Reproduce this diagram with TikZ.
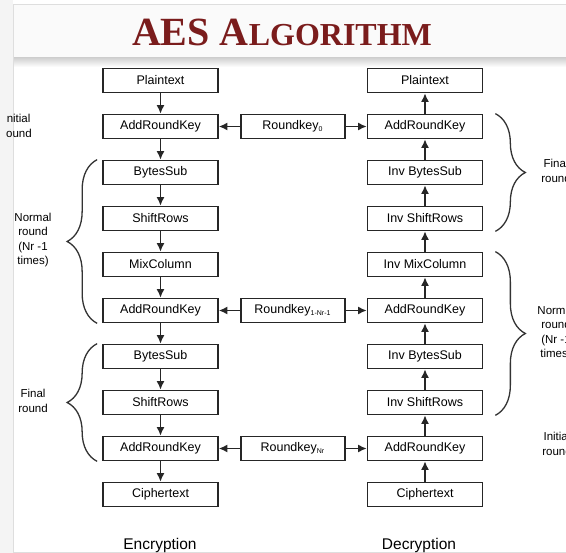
\documentclass[tikz,border=0pt]{standalone}
\usepackage{fontspec}
\setmainfont{Liberation Sans}
\newfontfamily\titlefont{Liberation Serif}
\usetikzlibrary{shapes,arrows,arrows.meta,positioning,decorations.pathreplacing}
\definecolor{titlered}{RGB}{122,28,28}
\definecolor{framegray}{RGB}{222,222,222}
\newcommand{\keysub}[1]{\textsubscript{\fontsize{7}{7}\selectfont #1}}

\begin{document}
\begin{tikzpicture}[x=1pt, y=-1pt, node distance=46pt, auto]
    % Styles
    \tikzstyle{block} = [rectangle, draw=black!85, line width=1.7pt, fill=white, minimum width=115pt, minimum height=24pt, inner sep=0pt, font=\fontsize{12.5}{14}\selectfont]
    \tikzstyle{keyblock} = [block, minimum width=104pt]
    \tikzstyle{line} = [draw, line width=1.5pt, black!85, -{Latex[length=8.5pt,width=8pt]}]
    \tikzstyle{bracket} = [draw, line width=1.3pt, black!80, decorate, decoration={brace, amplitude=30pt}]
    \tikzstyle{roundlabel} = [align=center, font=\fontsize{11.5}{14.5}\selectfont]

    \useasboundingbox (0,0) rectangle (566,553);

    % Slide frame and title
    \fill[white] (0,0) rectangle (566,553);
    \fill[framegray!35] (0,0) rectangle (13,553);
    \fill[gray!4] (13,4) rectangle (566,58);
    \shade[top color=gray!35, bottom color=white] (13,58) rectangle (566,67);
    \draw[framegray] (566,4) -- (13,4) -- (13,552) -- (566,552);
    \node[anchor=base, text=titlered, font=\titlefont\bfseries\fontsize{40}{40}\selectfont] (title) at (282,46) {AES A{\fontsize{32}{32}\selectfont LGORITHM}};

    % Encryption
    \node [block] (encPlain) at (160.5,80.5) {Plaintext};
    \node [block, below of=encPlain] (encAdd0) {AddRoundKey};
    \node [block, below of=encAdd0] (encSub1) {BytesSub};
    \node [block, below of=encSub1] (encShift1) {ShiftRows};
    \node [block, below of=encShift1] (encMix) {MixColumn};
    \node [block, below of=encMix] (encAdd1) {AddRoundKey};
    \node [block, below of=encAdd1] (encSub2) {BytesSub};
    \node [block, below of=encSub2] (encShift2) {ShiftRows};
    \node [block, below of=encShift2] (encAdd2) {AddRoundKey};
    \node [block, below of=encAdd2] (encCipher) {Ciphertext};

    % Round keys
    \node [keyblock, right=21pt of encAdd0] (key0) {Roundkey\keysub{0}};
    \node [keyblock, right=21pt of encAdd1] (key1) {Roundkey\keysub{1-Nr-1}};
    \node [keyblock, right=21pt of encAdd2] (key2) {Roundkey\keysub{Nr}};

    % Decryption
    \node [block] (decPlain) at (425,80.5) {Plaintext};
    \node [block, below of=decPlain] (decAdd0) {AddRoundKey};
    \node [block, below of=decAdd0] (decSub1) {Inv BytesSub};
    \node [block, below of=decSub1] (decShift1) {Inv ShiftRows};
    \node [block, below of=decShift1] (decMix) {Inv MixColumn};
    \node [block, below of=decMix] (decAdd1) {AddRoundKey};
    \node [block, below of=decAdd1] (decSub2) {Inv BytesSub};
    \node [block, below of=decSub2] (decShift2) {Inv ShiftRows};
    \node [block, below of=decShift2] (decAdd2) {AddRoundKey};
    \node [block, below of=decAdd2] (decCipher) {Ciphertext};

    % Edges
    \foreach \a/\b in {encPlain/encAdd0, encAdd0/encSub1, encSub1/encShift1, encShift1/encMix, encMix/encAdd1, encAdd1/encSub2, encSub2/encShift2, encShift2/encAdd2, encAdd2/encCipher}
        \path [line] (\a) -- (\b);
    \foreach \a/\b in {decCipher/decAdd2, decAdd2/decShift2, decShift2/decSub2, decSub2/decAdd1, decAdd1/decMix, decMix/decShift1, decShift1/decSub1, decSub1/decAdd0, decAdd0/decPlain}
        \path [line] (\a) -- (\b);
    \foreach \k/\r in {key0/Add0, key1/Add1, key2/Add2} {
        \path [line] (\k) -- (enc\r);
        \path [line] (\k) -- (dec\r);
    }

    % Braces
    \path [bracket] ([xshift=-5pt]encAdd1.south west) -- ([xshift=-5pt]encSub1.north west);
    \path [bracket] ([xshift=-5pt]encAdd2.south west) -- ([xshift=-5pt]encSub2.north west);
    \path [bracket] ([xshift=12pt]decAdd0.north east) -- ([xshift=12pt]decShift1.south east);
    \path [bracket] ([xshift=12pt]decMix.north east) -- ([xshift=12pt]decShift2.south east);

    % Round labels (cut at the slide edges as in the source image)
    \begin{scope}
        \clip (6,0) rectangle (566,553);
        \node [roundlabel] (lblInitL) at (17,126) {Initial\\round};
        \node [roundlabel] (lblNormL) at (33,240) {Normal\\round\\(Nr -1\\times)};
        \node [roundlabel] (lblFinL) at (33,401) {Final\\round};
        \node [roundlabel] (lblFinR) at (556,171) {Final\\round};
        \node [roundlabel] (lblNormR) at (556,333) {Normal\\round\\(Nr -1\\times)};
        \node [roundlabel] (lblInitR) at (557,444) {Initial\\round};
    \end{scope}

    \node [font=\fontsize{15.5}{18}\selectfont] (encLabel) at (160,545) {Encryption};
    \node [font=\fontsize{15.5}{18}\selectfont] (decLabel) at (419,545) {Decryption};
\end{tikzpicture}
\end{document}
